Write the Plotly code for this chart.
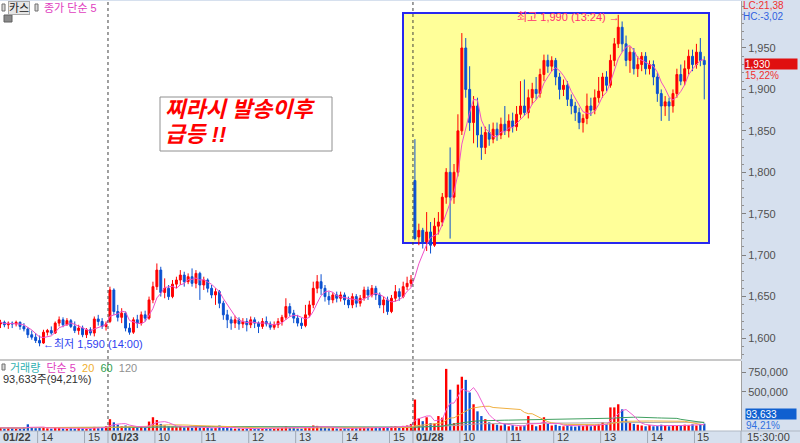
import pandas as pd
import plotly.graph_objects as go
from plotly.subplots import make_subplots

# 카스 5분봉 : 01/22 13:10 ~ 01/28 15:10
opens = [
    1617, 1619, 1616, 1618, 1617, 1619, 1614, 1611, 1604, 1601, 1597, 1594, 1607, 1609,
    1606, 1618, 1622, 1616, 1621, 1614, 1609, 1612, 1604, 1610, 1606, 1623, 1620, 1614,
    1620, 1658, 1632, 1625, 1630, 1612, 1607, 1622, 1618, 1628,
    1624, 1646, 1662, 1682, 1655, 1660, 1650, 1665, 1670, 1676,
    1668, 1674, 1666, 1678, 1664, 1670, 1660, 1652, 1656, 1642,
    1628, 1622, 1618, 1622, 1617, 1620, 1616, 1622, 1618, 1614,
    1620, 1617, 1613, 1616, 1620, 1625, 1638, 1630, 1624, 1618,
    1615, 1628, 1640, 1660, 1668, 1660, 1650, 1646, 1652, 1648,
    1652, 1646, 1640, 1650, 1642, 1648, 1658, 1652, 1660, 1652,
    1640, 1646, 1632, 1648, 1656, 1650, 1662, 1666,
    1790, 1722, 1730, 1716, 1728, 1712, 1735, 1740, 1770, 1800,
    1770, 1800, 1850, 1950, 1900, 1860, 1880, 1845, 1830, 1848,
    1840, 1852, 1845, 1858, 1850, 1862, 1855, 1870, 1880, 1872,
    1890, 1900, 1895, 1918, 1935, 1928, 1935, 1915, 1900, 1905,
    1888, 1880, 1872, 1860, 1865, 1880, 1875, 1890, 1898, 1915,
    1905, 1935, 1955, 1975, 1955, 1935, 1945, 1925, 1930, 1940,
    1925, 1930, 1915, 1895, 1880, 1885, 1880, 1895, 1918, 1910,
    1925, 1940, 1930, 1945, 1935,
]
highs = [
    1622, 1621, 1620, 1620, 1621, 1620, 1618, 1613, 1609, 1606, 1603, 1610, 1611, 1614,
    1620, 1626, 1625, 1624, 1623, 1620, 1616, 1615, 1612, 1613, 1626, 1628, 1624, 1620,
    1662, 1660, 1640, 1636, 1632, 1618, 1625, 1628, 1632, 1633,
    1650, 1668, 1690, 1686, 1672, 1664, 1670, 1674, 1682, 1680,
    1678, 1684, 1682, 1680, 1674, 1672, 1664, 1660, 1658, 1645,
    1634, 1626, 1627, 1625, 1624, 1624, 1626, 1625, 1620, 1624,
    1626, 1620, 1620, 1624, 1628, 1648, 1642, 1634, 1628, 1624,
    1640, 1645, 1668, 1676, 1677, 1664, 1656, 1655, 1656, 1656,
    1655, 1650, 1654, 1653, 1652, 1662, 1662, 1664, 1663, 1655,
    1650, 1650, 1652, 1664, 1660, 1668, 1674, 1676,
    1840, 1738, 1733, 1752, 1740, 1745, 1752, 1775, 1805, 1830,
    1810, 1870, 1968, 1962, 1928, 1892, 1890, 1855, 1855, 1858,
    1860, 1860, 1866, 1880, 1870, 1872, 1880, 1910, 1912, 1900,
    1908, 1915, 1925, 1942, 1942, 1940, 1938, 1920, 1912, 1910,
    1894, 1885, 1878, 1870, 1895, 1890, 1900, 1915, 1920, 1922,
    1942, 1962, 1990, 1982, 1965, 1952, 1950, 1940, 1945, 1945,
    1935, 1935, 1920, 1900, 1892, 1890, 1900, 1925, 1930, 1935,
    1948, 1948, 1955, 1962, 1940,
]
lows = [
    1612, 1613, 1611, 1612, 1614, 1610, 1608, 1600, 1598, 1594, 1590, 1593, 1603, 1604,
    1605, 1614, 1613, 1615, 1612, 1606, 1604, 1601, 1600, 1603, 1602, 1615, 1611, 1609,
    1618, 1628, 1620, 1618, 1608, 1604, 1605, 1612, 1615, 1620,
    1622, 1642, 1658, 1650, 1648, 1646, 1648, 1660, 1664, 1662,
    1665, 1662, 1660, 1646, 1658, 1655, 1648, 1640, 1636, 1622,
    1612, 1610, 1612, 1610, 1612, 1608, 1612, 1612, 1606, 1611,
    1614, 1610, 1610, 1612, 1615, 1622, 1626, 1618, 1614, 1611,
    1613, 1625, 1636, 1654, 1652, 1644, 1640, 1642, 1643, 1644,
    1640, 1636, 1636, 1637, 1638, 1645, 1646, 1649, 1646, 1636,
    1630, 1628, 1630, 1644, 1645, 1648, 1658, 1662,
    1718, 1712, 1708, 1705, 1702, 1710, 1725, 1735, 1762, 1720,
    1762, 1795, 1845, 1890, 1850, 1835, 1830, 1815, 1822, 1832,
    1835, 1838, 1840, 1845, 1842, 1848, 1850, 1865, 1868, 1865,
    1882, 1888, 1890, 1910, 1920, 1922, 1905, 1888, 1892, 1880,
    1870, 1862, 1852, 1848, 1858, 1868, 1870, 1884, 1890, 1898,
    1902, 1928, 1950, 1945, 1928, 1920, 1918, 1915, 1922, 1918,
    1918, 1905, 1885, 1862, 1868, 1862, 1872, 1890, 1905, 1905,
    1918, 1922, 1925, 1928, 1888,
]
closes = [
    1619, 1616, 1618, 1617, 1619, 1614, 1611, 1604, 1601, 1597, 1594, 1607, 1609, 1606,
    1618, 1622, 1616, 1621, 1614, 1609, 1612, 1604, 1610, 1606, 1623, 1620, 1614, 1617,
    1658, 1632, 1625, 1630, 1612, 1607, 1622, 1618, 1628, 1624,
    1646, 1662, 1682, 1655, 1660, 1650, 1665, 1670, 1676, 1668,
    1674, 1666, 1678, 1664, 1670, 1660, 1652, 1656, 1642, 1628,
    1622, 1618, 1622, 1617, 1620, 1616, 1622, 1618, 1614, 1620,
    1617, 1613, 1616, 1620, 1625, 1638, 1630, 1624, 1618, 1615,
    1628, 1640, 1660, 1668, 1660, 1650, 1646, 1652, 1648, 1652,
    1646, 1640, 1650, 1642, 1648, 1658, 1652, 1660, 1652, 1640,
    1646, 1632, 1648, 1656, 1650, 1662, 1666, 1670,
    1720, 1730, 1716, 1728, 1712, 1735, 1740, 1770, 1800, 1770,
    1800, 1850, 1950, 1900, 1860, 1880, 1845, 1830, 1848, 1840,
    1852, 1845, 1858, 1850, 1862, 1855, 1870, 1880, 1872, 1890,
    1900, 1895, 1918, 1935, 1928, 1935, 1915, 1900, 1905, 1888,
    1880, 1872, 1860, 1865, 1880, 1875, 1890, 1898, 1915, 1905,
    1935, 1955, 1975, 1955, 1935, 1945, 1925, 1930, 1940, 1925,
    1930, 1915, 1895, 1880, 1885, 1880, 1895, 1918, 1910, 1925,
    1940, 1930, 1945, 1935, 1930,
]
volumes = [
    40000, 32000, 45000, 38000, 30000, 28000, 50000, 85000, 42000, 36000, 48000, 40000, 34000, 30000,
    38000, 45000, 32000, 28000, 35000, 30000, 40000, 34000, 28000, 32000, 52000, 36000, 40000, 60000,
    150000, 110000, 80000, 60000, 70000, 55000, 50000, 45000, 60000, 50000,
    120000, 175000, 140000, 90000, 70000, 60000, 55000, 50000, 65000, 45000,
    50000, 40000, 55000, 45000, 40000, 38000, 35000, 40000, 70000, 45000,
    40000, 35000, 30000, 32000, 28000, 30000, 35000, 28000, 30000, 32000,
    26000, 30000, 28000, 35000, 40000, 60000, 45000, 38000, 32000, 30000,
    40000, 50000, 70000, 65000, 50000, 40000, 35000, 38000, 32000, 30000,
    35000, 32000, 40000, 36000, 38000, 45000, 40000, 42000, 38000, 45000,
    40000, 50000, 55000, 60000, 48000, 65000, 70000, 90000,
    400000, 160000, 125000, 175000, 100000, 95000, 190000, 170000, 790000, 525000,
    100000, 590000, 690000, 650000, 490000, 340000, 250000, 190000, 150000, 110000,
    90000, 80000, 70000, 95000, 60000, 75000, 55000, 60000, 70000, 190000,
    80000, 60000, 75000, 175000, 90000, 70000, 80000, 65000, 60000, 75000,
    60000, 55000, 70000, 65000, 80000, 60000, 75000, 90000, 110000, 85000,
    300000, 300000, 340000, 275000, 150000, 110000, 90000, 80000, 70000, 60000,
    75000, 60000, 65000, 80000, 70000, 60000, 75000, 65000, 70000, 80000,
    75000, 85000, 70000, 90000, 93633,
]

tick_idx = [0, 10, 22, 28, 40, 52, 64, 76, 88, 100, 106, 118, 130, 142, 154, 166, 178]
tick_text = ["01/22", "14", "15", "01/23", "10", "11", "12", "13", "14", "15",
             "01/28", "10", "11", "12", "13", "14", "15"]
day_start_idx = [28, 106]
price_ticks = [1600, 1650, 1700, 1750, 1800, 1850, 1900, 1950]
vol_ticks = [500000, 750000]

RED = "#ff0000"
BLUE = "#0a50d0"
PINK = "#f050c8"
PANEL = "#d6e0ee"
FONT = "Liberation Sans, Noto Sans CJK KR"

PW, PH = 741, 430          # plot area in px
X_RANGE = [-0.12, 189.4]
Y_RANGE = [1574.7, 2006.7]
V_RANGE = [0, 890000]


def xp(p):
    return p / PW


def yp(p):
    return (431 - p) / PH


def u2p(u):
    return (u - X_RANGE[0]) / (X_RANGE[1] - X_RANGE[0])


def p2u(p):
    return X_RANGE[0] + p / PW * (X_RANGE[1] - X_RANGE[0])


def p2price(p):
    return Y_RANGE[1] - (p - 1) * (Y_RANGE[1] - Y_RANGE[0]) / 358


idx = list(range(len(closes)))
df = pd.DataFrame({"o": opens, "h": highs, "l": lows, "c": closes, "v": volumes}, index=idx)
ma5 = df["c"].rolling(5, min_periods=1).mean()
vol_colors = [RED if i == 0 or df["c"][i] >= df["c"][i - 1] else BLUE for i in idx]

fig = make_subplots(rows=2, cols=1, shared_xaxes=True, vertical_spacing=0.01)
fig.add_trace(
    go.Candlestick(
        x=idx, open=opens, high=highs, low=lows, close=closes,
        increasing=dict(line=dict(color=RED, width=1), fillcolor=RED),
        decreasing=dict(line=dict(color=BLUE, width=1), fillcolor=BLUE),
        whiskerwidth=0, hoverinfo="skip",
    ),
    row=1, col=1,
)
fig.add_trace(go.Scatter(x=idx, y=ma5, mode="lines", line=dict(color=PINK, width=1), hoverinfo="skip"), row=1, col=1)

fig.add_trace(go.Bar(x=idx, y=volumes, marker_color=vol_colors, marker_line_width=0, hoverinfo="skip"), row=2, col=1)
for n, col in [(120, "#a8a8a8"), (60, "#40a060"), (20, "#f0b040"), (5, "#f060d0")]:
    fig.add_trace(
        go.Scatter(x=idx, y=df["v"].rolling(n, min_periods=1).mean(), mode="lines",
                   line=dict(color=col, width=1), hoverinfo="skip"),
        row=2, col=1,
    )

axis_common = dict(side="right", ticks="outside", ticklen=4, tickcolor="#808080",
                   showline=True, linecolor="#a0a0a0", linewidth=1, showgrid=False, zeroline=False,
                   tickfont=dict(size=11, color="#505050", family=FONT), tickformat=",d")
fig.update_yaxes(range=Y_RANGE, domain=[yp(359), 1], tickvals=price_ticks,
                 minor=dict(dtick=10, ticks="outside", ticklen=2, tickcolor="#909090"),
                 row=1, col=1, **axis_common)
fig.update_yaxes(range=V_RANGE, domain=[0, yp(361)], tickvals=vol_ticks, row=2, col=1, **axis_common)
fig.update_xaxes(range=X_RANGE, showticklabels=False, showgrid=False, zeroline=False,
                 showline=False, ticks="", rangeslider=dict(visible=False))

shapes = [
    # 찌라시 구간 박스
    dict(type="rect", xref="x", yref="y", x0=p2u(403), x1=p2u(709), y0=p2price(243), y1=p2price(13),
         fillcolor="#ffff99", line=dict(color="#2828f0", width=2), layer="below"),
    # 설명 박스
    dict(type="rect", xref="paper", yref="paper", x0=xp(160), x1=xp(332), y0=yp(151), y1=yp(97),
         fillcolor="white", line=dict(color="#909090", width=1), layer="above"),
    # 패널 구분선
    dict(type="line", xref="paper", yref="paper", x0=0, x1=1, y0=yp(360), y1=yp(360),
         line=dict(color="#c8c8c8", width=2)),
    dict(type="line", xref="paper", yref="paper", x0=0, x1=xp(800), y0=0, y1=0,
         line=dict(color="#b0b8c4", width=1)),
    dict(type="line", xref="paper", yref="paper", x0=1, x1=1, y0=yp(443), y1=0,
         line=dict(color="#a0a8b4", width=1)),
    # 범례 아이콘
    dict(type="rect", xref="paper", yref="paper", x0=xp(2), x1=xp(5), y0=yp(11), y1=yp(4),
         fillcolor="#d8d8d8", line=dict(color="#707070", width=1)),
    dict(type="rect", xref="paper", yref="paper", x0=xp(35), x1=xp(38), y0=yp(11), y1=yp(4),
         fillcolor="#d8d8d8", line=dict(color="#707070", width=1)),
    dict(type="rect", xref="paper", yref="paper", x0=xp(4), x1=xp(12), y0=yp(22), y1=yp(15),
         fillcolor="#8a8a8a", line=dict(color="#606060", width=1)),
    dict(type="rect", xref="paper", yref="paper", x0=xp(2), x1=xp(5), y0=yp(370), y1=yp(364),
         fillcolor="#d8d8d8", line=dict(color="#707070", width=1)),
]
for d in day_start_idx:
    shapes.append(dict(type="line", xref="paper", yref="paper", x0=u2p(d - 0.5), x1=u2p(d - 0.5),
                       y0=0, y1=1, line=dict(color="#404040", width=1, dash="dot")))
for t in tick_idx:
    shapes.append(dict(type="line", xref="paper", yref="paper", x0=u2p(t - 0.5), x1=u2p(t - 0.5),
                       y0=yp(443), y1=0, line=dict(color="#a0a8b4", width=1)))

annotations = []


def note(text, x, y, color="#303030", size=11, xanchor="left", **kw):
    annotations.append(dict(text=text, x=x, y=y, xref="paper", yref="paper", showarrow=False,
                            xanchor=xanchor, yanchor="middle",
                            font=dict(size=size, color=color, family=FONT), **kw))


for t, lab in zip(tick_idx, tick_text):
    txt = f"<b>{lab}</b>" if "/" in lab else lab
    note(txt, max(u2p(t - 0.5), 0) + xp(1), yp(437), color="#404040")

note("카스", xp(8), yp(8), color="#202020", bgcolor="#e6e6e6", bordercolor="#a8a8a8",
     borderwidth=1, borderpad=0)
note("종가 단순 5", xp(42), yp(8), color="#e040c0")
note("<span style='color:#30b0b0'>거래량</span>  <span style='color:#e040c0'>단순 5</span>  "
     "<span style='color:#f0b030'>20</span>  <span style='color:#30a050'>60</span>  "
     "<span style='color:#909090'>120</span>", xp(8), yp(368))
note("93,633주(94,21%)", xp(1), yp(379), color="#303030")

note("<b><i>찌라시 발송이후</i></b>", xp(163), yp(110), color="#ff0000", size=22)
note("<b><i>급등 !!</i></b>", xp(163), yp(134), color="#ff0000", size=22)

note("최고 1,990 (13:24) →", xp(622), yp(17), color="#ff3070", xanchor="right")
note("←최저 1,590 (14:00)", xp(41), yp(344), color="#2f3ff0")

note("LC:21,38", xp(742), yp(5.5), color="#f03030", size=10, borderpad=0)
note("HC:-3,02", xp(742), yp(16.5), color="#3060e0", size=10, borderpad=0)
note("1,930", xp(744), yp(63.5), color="white", bgcolor="#e01010", width=52, height=10,
     align="left", borderpad=0, size=10)
note("15,22%", xp(744), yp(75), color="#f03030", size=10, borderpad=0)
note("93,633", xp(745), yp(413.5), color="white", bgcolor="#1060d0", width=50, height=10,
     align="left", borderpad=0, size=10)
note("94,21%", xp(745), yp(425), color="#3070e0", size=10, borderpad=0)
note("15:30:00", xp(745), yp(437), color="#404040")

fig.update_layout(
    width=800, height=443,
    margin=dict(l=0, r=59, t=1, b=12),
    paper_bgcolor=PANEL, plot_bgcolor="white",
    showlegend=False, bargap=0.4, hovermode=False,
    font=dict(family=FONT, size=11, color="#404040"),
    shapes=shapes, annotations=annotations,
)

# 페이지 기본 여백 제거, 툴바 숨김
fig.write_html("out.html", config={"displayModeBar": False},
               post_script="document.body.style.margin='0px';")
